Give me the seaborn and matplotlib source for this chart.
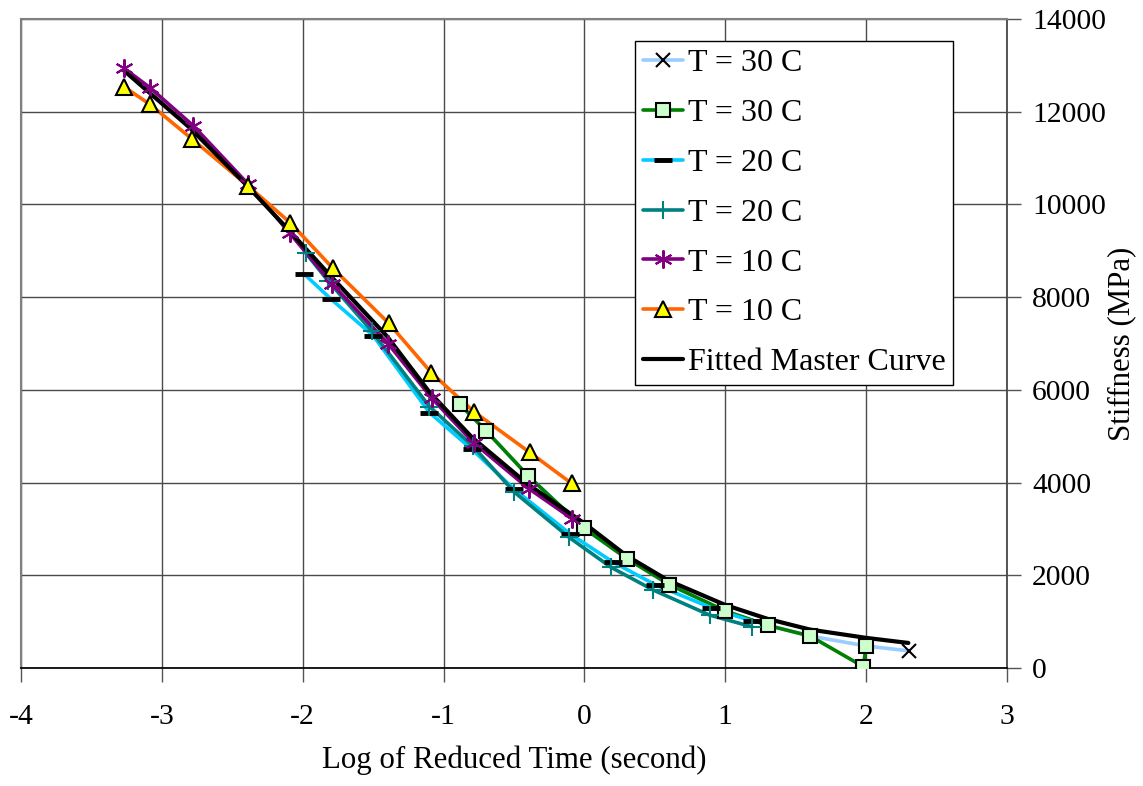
import numpy as np
import pandas as pd
import matplotlib
matplotlib.use("Agg")
import matplotlib.pyplot as plt
import seaborn as sns
from matplotlib.lines import Line2D

# ── data ──
t30_x_logt = [-0.886, -0.699, -0.398, 0.0, 0.301, 0.602, 1.0, 1.301, 1.602, 2.0, 2.301]
t30_x_stiff = [5690, 5120, 4140, 3010, 2360, 1800, 1230, 920, 690, 475, 370]

t30_sq_logt = [-0.886, -0.699, -0.398, 0.0, 0.301, 0.602, 1.0, 1.301, 1.602, 1.98, 2.0]
t30_sq_stiff = [5690, 5120, 4140, 3010, 2360, 1800, 1230, 920, 690, 30, 475]

t20_dash_logt = [-1.99, -1.80, -1.50, -1.10, -0.80, -0.50, -0.10, 0.20, 0.50, 0.90, 1.19]
t20_dash_stiff = [8500, 7960, 7170, 5510, 4720, 3860, 2890, 2290, 1800, 1300, 1010]

t20_plus_logt = [-1.98, -1.82, -1.51, -1.10, -0.79, -0.50, -0.11, 0.19, 0.49, 0.89, 1.19]
t20_plus_stiff = [8960, 8350, 7270, 5640, 4780, 3800, 2820, 2170, 1680, 1140, 890]

t10_star_logt = [-3.27, -3.085, -2.778, -2.388, -2.092, -1.789, -1.392, -1.083, -0.787, -0.395, -0.087]
t10_star_stiff = [12940, 12520, 11700, 10440, 9380, 8280, 6990, 5820, 4860, 3870, 3220]

t10_tri_logt = [-3.27, -3.085, -2.785, -2.388, -2.087, -1.785, -1.39, -1.087, -0.785, -0.388, -0.09]
t10_tri_stiff = [12540, 12160, 11410, 10400, 9600, 8620, 7440, 6370, 5530, 4650, 3980]

master_logt = [-3.27, -2.8, -2.4, -2.1, -1.8, -1.4, -1.1, -0.8, -0.4, 0.0, 0.3, 0.6, 1.0, 1.3, 1.6, 2.0, 2.3]
master_stiff = [12890, 11650, 10420, 9450, 8450, 7150, 5950, 4980, 3960, 3120, 2420, 1880, 1360, 1060, 830, 650, 540]

labels = ["T = 30 C", "T = 30 C", "T = 20 C", "T = 20 C", "T = 10 C", "T = 10 C"]

# style per series: line colour, marker, marker face, marker edge, size, edge width
series = [
    (t30_x_logt, t30_x_stiff, "#99CCFF", "x", "black", "black", 10, 1.5),
    (t30_sq_logt, t30_sq_stiff, "#008000", "s", "#CCFFCC", "black", 10, 1.5),
    (t20_dash_logt, t20_dash_stiff, "#00CCFF", "_", "black", "black", 13, 3.5),
    (t20_plus_logt, t20_plus_stiff, "#008080", "+", "#008080", "#008080", 13, 1.5),
    (t10_star_logt, t10_star_stiff, "#800080", (6, 2, 0), "#800080", "#800080", 13, 1.5),
    (t10_tri_logt, t10_tri_stiff, "#FF6600", "^", "#FFFF00", "black", 12, 1.5),
]

sns.set_theme(style="white")
plt.rcParams["font.family"] = ["Liberation Serif", "DejaVu Serif"]
plt.rcParams["axes.unicode_minus"] = False
plt.rcParams["text.color"] = "black"
plt.rcParams["axes.labelcolor"] = "black"

fig = plt.figure(figsize=(11.43, 7.86), dpi=100)
ax = fig.add_axes([21 / 1143, 1 - 668 / 786, (1007 - 21) / 1143, (668 - 19) / 786])

# lines first
for xs, ys, col, *_ in series:
    sns.lineplot(x=xs, y=ys, sort=False, estimator=None, color=col, lw=2.6,
                 ax=ax, zorder=2)
sns.lineplot(x=master_logt, y=master_stiff, sort=False, estimator=None,
             color="black", lw=3, ax=ax, zorder=2.5)

# markers on top
for xs, ys, col, mk, mfc, mec, ms, mew in series:
    sns.lineplot(x=xs, y=ys, sort=False, estimator=None, linestyle="none",
                 marker=mk, markersize=ms, markerfacecolor=mfc,
                 markeredgecolor=mec, markeredgewidth=mew, ax=ax, zorder=3)

ax.set_xlim(-4, 3)
ax.set_ylim(0, 14000)
ax.set_xticks(range(-4, 4))
ax.set_yticks(range(0, 14001, 2000))
ax.grid(True, color="#4a4a4a", lw=1)

ax.yaxis.tick_right()
ax.yaxis.set_label_position("right")
ax.tick_params(axis="both", direction="out", length=10, width=1, color="#555555",
               labelsize=21.3, labelcolor="black")
ax.tick_params(axis="x", pad=16, bottom=True)
ax.tick_params(axis="y", pad=8, right=True, left=False)

for side in ["left", "top"]:
    ax.spines[side].set_color("#808080")
    ax.spines[side].set_linewidth(1.5)
ax.spines["right"].set_color("#404040")
ax.spines["bottom"].set_color("black")

ax.set_xlabel("Log of Reduced Time (second)", fontsize=22.2, labelpad=11,
              color="black")
ax.set_ylabel("Stiffness (MPa)", fontsize=22.2, labelpad=1, color="black")

handles = []
for xs, ys, col, mk, mfc, mec, ms, mew in series:
    handles.append(Line2D([], [], color=col, lw=2.6, marker=mk, markersize=ms,
                          markerfacecolor=mfc, markeredgecolor=mec,
                          markeredgewidth=mew))
handles.append(Line2D([], [], color="black", lw=3))
leg = ax.legend(handles, labels + ["Fitted Master Curve"], loc="upper left",
                bbox_to_anchor=(635 / 1143, 1 - 41 / 786),
                bbox_transform=fig.transFigure, borderaxespad=0,
                fontsize=23, frameon=True, fancybox=False, handlelength=1.25,
                handletextpad=0.15, labelspacing=0.64, borderpad=0.25)
leg.get_frame().set_edgecolor("black")
leg.get_frame().set_linewidth(1)
leg.get_frame().set_alpha(1)
for txt in leg.get_texts():
    txt.set_color("black")

fig.savefig("out.png", dpi=100, facecolor="white")
